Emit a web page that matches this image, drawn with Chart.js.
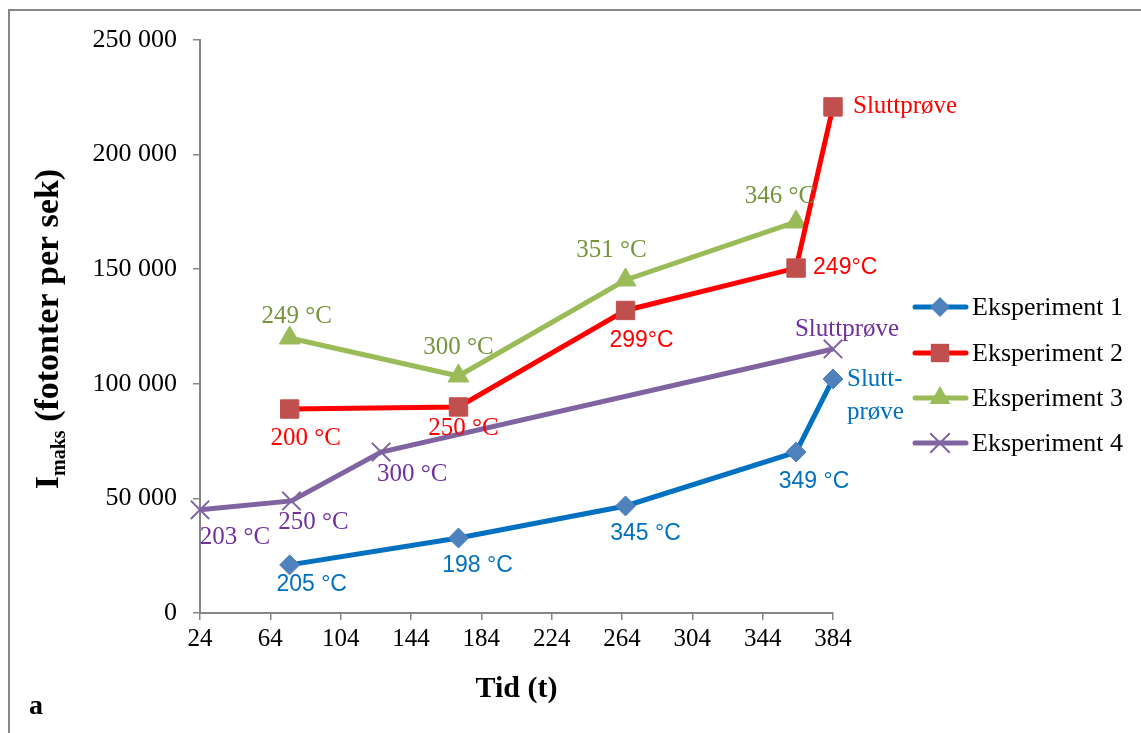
<!DOCTYPE html>
<html>
<head>
<meta charset="utf-8">
<script src="https://cdn.jsdelivr.net/npm/chart.js@4.4.1/dist/chart.umd.min.js"></script>
<style>
    html, body { margin: 0; padding: 0; background: #fff; overflow: hidden; }
    #wrap { position: relative; width: 1141px; height: 733px; }
</style>
</head>
<body>
<div id="wrap"><canvas id="chart" width="1141" height="733"></canvas></div>
<script>
// Data
const seriesNames = ['Eksperiment 1', 'Eksperiment 2', 'Eksperiment 3', 'Eksperiment 4'];

const exp1X = [75, 171, 266, 363, 384];
const exp1Y = [21000, 32700, 46700, 70200, 102100];
const exp1Labels = ['205 °C', '198 °C', '345 °C', '349 °C', 'Slutt-\nprøve'];

const exp2X = [75, 171, 266, 363, 384];
const exp2Y = [89000, 89900, 132000, 150500, 220800];
const exp2Labels = ['200 °C', '250 °C', '299°C', '249°C', 'Sluttprøve'];

const exp3X = [75, 171, 266, 363];
const exp3Y = [120000, 103400, 145300, 170600];
const exp3Labels = ['249 °C', '300 °C', '351 °C', '346 °C'];

const exp4X = [24, 76, 127, 384];
const exp4Y = [45000, 48900, 70200, 115200];
const exp4Labels = ['203 °C', '250 °C', '300 °C', 'Sluttprøve'];

const xTicks = [24, 64, 104, 144, 184, 224, 264, 304, 344, 384];
const yTicks = [0, 50000, 100000, 150000, 200000, 250000];

const xTitle = 'Tid (t)';
const yTitleMain = 'I';
const yTitleSub = 'maks';
const yTitleRest = ' (fotonter per sek)';
const panelLetter = 'a';

const serif = '"Liberation Serif", "Times New Roman", serif';
const sans = '"Liberation Sans", Arial, sans-serif';
const axisGray = '#868686';

const toPoints = (xs, ys) => xs.map((x, i) => ({ x: x, y: ys[i] }));
const fmtThousands = (v) => String(v).replace(/\B(?=(\d{3})+(?!\d))/g, ' ');

// label offsets from the point: [dx, dy, align, font]
const labelPlacement = [
    [[22, 20, 'center', sans], [19, 28, 'center', sans], [20, 28, 'center', sans], [18, 30, 'center', sans], [14, 0, 'left', serif]],
    [[16, 29, 'center', serif], [5, 21, 'center', serif], [16, 30, 'center', sans], [17, 0, 'left', sans], [20, 0, 'left', serif]],
    [[7, -22, 'center', serif], [0, -29, 'center', serif], [-14, -30, 'center', serif], [-16, -26, 'center', serif]],
    [[35, 28, 'center', serif], [22, 22, 'center', serif], [31, 22, 'center', serif], [14, -20, 'center', serif]]
];
const labelColors = ['#0070C0', '#FF0000', '#77933C', '#7030A0'];
const allLabels = [exp1Labels, exp2Labels, exp3Labels, exp4Labels];

function drawMarker(ctx, style, x, y, r, fill, stroke) {
    ctx.save();
    ctx.fillStyle = fill;
    ctx.strokeStyle = stroke;
    ctx.beginPath();
    if (style === 'rectRot') {
        ctx.moveTo(x, y - r); ctx.lineTo(x + r, y); ctx.lineTo(x, y + r); ctx.lineTo(x - r, y);
        ctx.closePath(); ctx.fill();
    } else if (style === 'rect') {
        const s = r * Math.SQRT1_2;
        ctx.rect(x - s, y - s, 2 * s, 2 * s); ctx.fill();
    } else if (style === 'triangle') {
        ctx.moveTo(x, y - r);
        ctx.lineTo(x + r * Math.cos(Math.PI / 6), y + r / 2);
        ctx.lineTo(x - r * Math.cos(Math.PI / 6), y + r / 2);
        ctx.closePath(); ctx.fill();
    } else if (style === 'crossRot') {
        const d = r * Math.SQRT1_2;
        ctx.lineWidth = 2;
        ctx.moveTo(x - d, y - d); ctx.lineTo(x + d, y + d);
        ctx.moveTo(x + d, y - d); ctx.lineTo(x - d, y + d);
        ctx.stroke();
    }
    ctx.restore();
}

const decorPlugin = {
    id: 'decor',
    beforeDraw(chart) {
        const ctx = chart.ctx;
        ctx.save();
        ctx.strokeStyle = axisGray;
        ctx.lineWidth = 2;
        ctx.strokeRect(9, 10, 1200, 800);
        ctx.restore();
    },
    afterDatasetsDraw(chart) {
        const ctx = chart.ctx;
        ctx.save();
        chart.data.datasets.forEach((ds, di) => {
            const meta = chart.getDatasetMeta(di);
            meta.data.forEach((pt, i) => {
                const place = labelPlacement[di][i];
                const size = place[3] === sans ? 23 : 25;
                ctx.font = size + 'px ' + place[3];
                ctx.fillStyle = labelColors[di];
                ctx.textAlign = place[2];
                ctx.textBaseline = 'middle';
                const lines = allLabels[di][i].split('\n');
                lines.forEach((line, li) => {
                    ctx.fillText(line, pt.x + place[0], pt.y + place[1] + li * 33);
                });
            });
        });
        ctx.restore();
    },
    afterDraw(chart) {
        const ctx = chart.ctx;
        const area = chart.chartArea;
        ctx.save();

        // legend
        const legendY = [307, 353, 398, 443];
        chart.data.datasets.forEach((ds, di) => {
            const y = legendY[di];
            ctx.strokeStyle = ds.borderColor;
            ctx.lineWidth = 5;
            ctx.lineCap = 'round';
            ctx.beginPath();
            ctx.moveTo(915, y); ctx.lineTo(966, y);
            ctx.stroke();
            drawMarker(ctx, ds.pointStyle, 940, y, ds.pointRadius, ds.pointBackgroundColor, ds.pointBorderColor);
            ctx.font = '26px ' + serif;
            ctx.fillStyle = '#000';
            ctx.textAlign = 'left';
            ctx.textBaseline = 'middle';
            ctx.fillText(ds.label, 972, y + 1);
        });

        // x title
        ctx.font = 'bold 30px ' + serif;
        ctx.fillStyle = '#000';
        ctx.textAlign = 'center';
        ctx.textBaseline = 'alphabetic';
        ctx.fillText(xTitle, (area.left + area.right) / 2, 697);

        // y title with subscript
        ctx.save();
        ctx.translate(58, 329);
        ctx.rotate(-Math.PI / 2);
        const mainFont = 'bold 34px ' + serif;
        const subFont = 'bold 20px ' + serif;
        ctx.font = mainFont;
        const wI = ctx.measureText(yTitleMain).width;
        const wRest = ctx.measureText(yTitleRest).width;
        ctx.font = subFont;
        const wSub = ctx.measureText(yTitleSub).width;
        let x0 = -(wI + wSub + wRest) / 2;
        ctx.textAlign = 'left';
        ctx.textBaseline = 'alphabetic';
        ctx.font = mainFont;
        ctx.fillText(yTitleMain, x0, 0);
        ctx.font = subFont;
        ctx.fillText(yTitleSub, x0 + wI, 7);
        ctx.font = mainFont;
        ctx.fillText(yTitleRest, x0 + wI + wSub, 0);
        ctx.restore();

        // panel letter
        ctx.font = 'bold 28px ' + serif;
        ctx.textAlign = 'left';
        ctx.fillText(panelLetter, 29, 714);
        ctx.restore();
    }
};

const ctx = document.getElementById('chart').getContext('2d');
new Chart(ctx, {
    type: 'line',
    data: {
        datasets: [
            {
                label: seriesNames[0],
                data: toPoints(exp1X, exp1Y),
                borderColor: '#0070C0',
                borderWidth: 5,
                pointStyle: 'rectRot',
                pointRadius: 10,
                pointBackgroundColor: '#4F81BD',
                pointBorderColor: '#4F81BD',
                pointBorderWidth: 1,
                clip: false
            },
            {
                label: seriesNames[1],
                data: toPoints(exp2X, exp2Y),
                borderColor: '#FF0000',
                borderWidth: 5,
                pointStyle: 'rect',
                pointRadius: 13,
                pointBackgroundColor: '#C0504D',
                pointBorderColor: '#C0504D',
                pointBorderWidth: 1,
                clip: false
            },
            {
                label: seriesNames[2],
                data: toPoints(exp3X, exp3Y),
                borderColor: '#9BBB59',
                borderWidth: 5,
                pointStyle: 'triangle',
                pointRadius: 12,
                pointBackgroundColor: '#9BBB59',
                pointBorderColor: '#9BBB59',
                pointBorderWidth: 1,
                clip: false
            },
            {
                label: seriesNames[3],
                data: toPoints(exp4X, exp4Y),
                borderColor: '#8064A2',
                borderWidth: 5,
                pointStyle: 'crossRot',
                pointRadius: 13,
                pointBackgroundColor: '#8064A2',
                pointBorderColor: '#8064A2',
                pointBorderWidth: 2,
                clip: false
            }
        ]
    },
    options: {
        responsive: false,
        animation: false,
        devicePixelRatio: 1,
        layout: { padding: { left: 0, right: 308, top: 40, bottom: 0 } },
        plugins: {
            legend: { display: false },
            tooltip: { enabled: false }
        },
        elements: { line: { tension: 0 } },
        scales: {
            x: {
                type: 'linear',
                min: xTicks[0],
                max: xTicks[xTicks.length - 1],
                afterFit: (scale) => { scale.height = 120; },
                afterBuildTicks: (scale) => { scale.ticks = xTicks.map(v => ({ value: v })); },
                grid: { drawOnChartArea: false, drawTicks: true, tickLength: 7, color: axisGray, lineWidth: 1.5 },
                border: { color: axisGray, width: 2 },
                ticks: {
                    font: { family: serif, size: 25 },
                    color: '#000',
                    padding: 4,
                    maxRotation: 0
                }
            },
            y: {
                min: yTicks[0],
                max: yTicks[yTicks.length - 1],
                afterFit: (scale) => { scale.width = 200; },
                afterBuildTicks: (scale) => { scale.ticks = yTicks.map(v => ({ value: v })); },
                grid: { drawOnChartArea: false, drawTicks: true, tickLength: 7, color: axisGray, lineWidth: 1.5 },
                border: { color: axisGray, width: 2 },
                ticks: {
                    font: { family: serif, size: 26 },
                    color: '#000',
                    padding: 16,
                    callback: (v) => fmtThousands(v)
                }
            }
        }
    },
    plugins: [decorPlugin]
});
</script>
</body>
</html>
